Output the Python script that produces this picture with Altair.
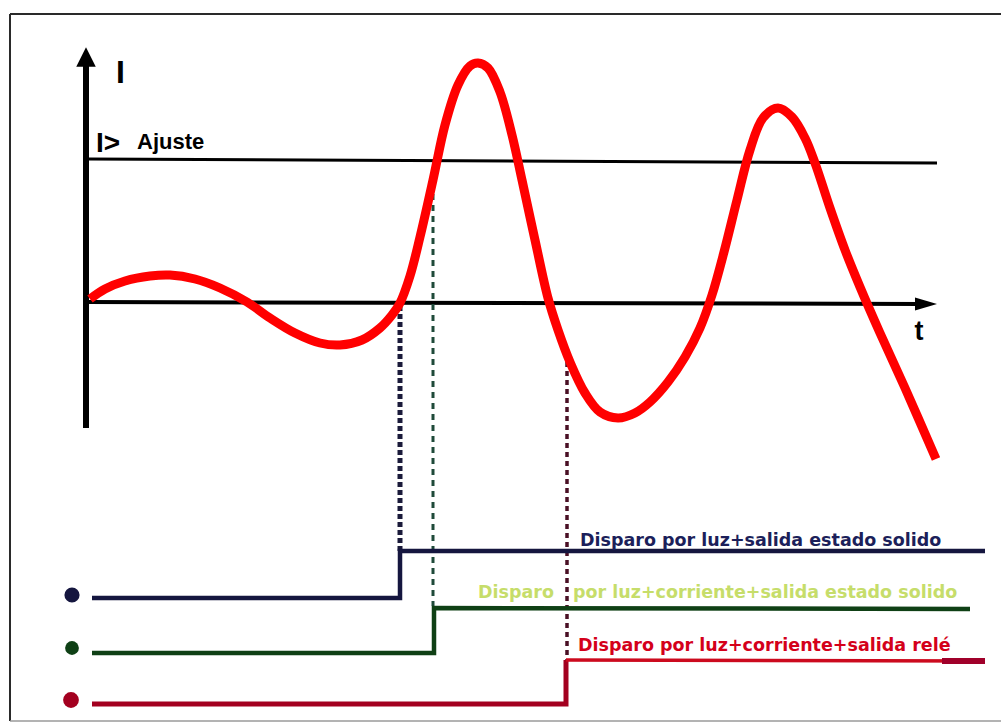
import altair as alt
import pandas as pd

W, H = 1001, 725

# ---- red current curve (t, I) in picture units ----
curve_t = [90, 105, 125, 150, 170, 195, 220, 247, 270, 295, 320, 340, 362, 380, 392,
           400, 410, 420, 433, 445, 458, 470, 478, 488, 500, 512, 522, 535, 548, 558,
           570, 585, 600, 618, 635, 650, 668, 685, 700, 712, 724, 737, 750, 763, 778,
           792, 805, 815, 830, 845, 860, 880, 905, 936]
curve_i = [299, 289, 281, 276, 275, 279, 288, 302, 318, 333, 343, 345, 340, 328, 315,
           303, 276, 237, 180, 125, 85, 66, 63, 68, 92, 135, 180, 240, 298, 330,
           362, 393, 412, 418, 413, 402, 382, 357, 328, 295, 252, 200, 150, 118, 108,
           117, 138, 163, 208, 250, 287, 333, 388, 459]

# ---- step signals ----
navy_t = [92, 400, 400, 985]
navy_v = [598, 598, 551, 551]
green_t = [92, 434, 434, 970]
green_v = [653, 653, 608, 609]
red_lo_t = [92, 566, 566]
red_lo_v = [704, 704, 660]
red_hi_t = [566, 985]
red_hi_v = [660, 661]

# ---- labels ----
label_texts = ["Disparo por luz+salida estado solido",
               "Disparo",
               "por luz+corriente+salida estado solido",
               "Disparo por luz+corriente+salida relé"]

xs = alt.Scale(domain=[0, W], nice=False, zero=False)
ys = alt.Scale(domain=[H, 0], nice=False, zero=False)


def rule(df, color, width, dash=None, opacity=1.0, cap="butt"):
    kw = dict(color=color, strokeWidth=width, opacity=opacity, strokeCap=cap)
    if dash:
        kw["strokeDash"] = dash
    return alt.Chart(pd.DataFrame(df)).mark_rule(**kw).encode(
        x=alt.X("x:Q", scale=xs, axis=None),
        y=alt.Y("y:Q", scale=ys, axis=None),
        x2="x2:Q", y2="y2:Q")


def path(t, v, color, width, interp="linear"):
    df = pd.DataFrame({"x": t, "y": v, "o": list(range(len(t)))})
    return alt.Chart(df).mark_line(color=color, strokeWidth=width, interpolate=interp,
                                   strokeJoin="miter", strokeCap="butt").encode(
        x=alt.X("x:Q", scale=xs, axis=None),
        y=alt.Y("y:Q", scale=ys, axis=None),
        order="o:Q")


def text(xv, yv, s, color, size, weight="bold", font="Liberation Sans", align="left"):
    df = pd.DataFrame({"x": [xv], "y": [yv], "s": [s]})
    return alt.Chart(df).mark_text(color=color, fontSize=size, fontWeight=weight, font=font,
                                   align=align, baseline="alphabetic").encode(
        x=alt.X("x:Q", scale=xs, axis=None),
        y=alt.Y("y:Q", scale=ys, axis=None),
        text="s:N")


def head(xv, yv, shape, size):
    df = pd.DataFrame({"x": [xv], "y": [yv]})
    return alt.Chart(df).mark_point(shape=shape, size=size, filled=True, color="black",
                                    opacity=1, strokeWidth=0).encode(
        x=alt.X("x:Q", scale=xs, axis=None),
        y=alt.Y("y:Q", scale=ys, axis=None))


def dot(xv, yv, color, size):
    df = pd.DataFrame({"x": [xv], "y": [yv]})
    return alt.Chart(df).mark_point(shape="circle", size=size, filled=True, color=color,
                                    opacity=1, strokeWidth=0).encode(
        x=alt.X("x:Q", scale=xs, axis=None),
        y=alt.Y("y:Q", scale=ys, axis=None))


layers = [
    # frame
    rule({"x": [10, 10], "y": [14, 14], "x2": [10, 1001], "y2": [721, 14]}, "#2a2a2a", 2),
    rule({"x": [10], "y": [721], "x2": [1001], "y2": [721]}, "#9a9a9a", 1.5),
    # axes and threshold
    rule({"x": [86], "y": [62], "x2": [86], "y2": [428]}, "black", 6),
    rule({"x": [86], "y": [302], "x2": [922], "y2": [304]}, "black", 4),
    rule({"x": [88], "y": [159], "x2": [937], "y2": [163]}, "black", 3),
    head(86, 57, "M-1,1L0,-1L1,1Z", 380),
    head(926, 304, "M-1,-0.6L1,0L-1,0.6Z", 484),
    # dashed drop lines
    rule({"x": [400], "y": [306], "x2": [400], "y2": [552]}, "#1a1a3a", 5, dash=[5, 3]),
    rule({"x": [433], "y": [172], "x2": [433], "y2": [606]}, "#1f4a3a", 3, dash=[6, 5]),
    rule({"x": [567], "y": [362], "x2": [567], "y2": [660]}, "#4a1025", 3.5, dash=[5, 4]),
    # step signals
    path(navy_t, navy_v, "#15163f", 4.5),
    path(green_t, green_v, "#0f4015", 4.5),
    path(red_lo_t, red_lo_v, "#a3001f", 5),
    path(red_hi_t, red_hi_v, "#cc0a1e", 3.5),
    rule({"x": [942], "y": [661], "x2": [985], "y2": [661]}, "#a0002a", 6),
    dot(72, 595, "#15163f", 230),
    dot(72, 648, "#0f4015", 190),
    dot(71, 700, "#a3001f", 250),
    # red curve
    path(curve_t, curve_i, "#ff0000", 9, interp="catmull-rom"),
    # texts
    text(116, 83, "I", "black", 32),
    text(96, 152, "I>", "black", 28),
    text(137, 149, "Ajuste", "black", 22),
    text(919, 340, "t", "black", 27, align="center"),
    text(580, 546, label_texts[0], "#1c1f5a", 17.5, font="DejaVu Sans"),
    text(478, 598, label_texts[1], "#c6dd6a", 17.5, font="DejaVu Sans"),
    text(573, 598, label_texts[2], "#c6dd6a", 17.5, font="DejaVu Sans"),
    text(578, 651, label_texts[3], "#d4001a", 17.5, font="DejaVu Sans"),
]

chart = alt.layer(*layers).properties(
    width=W, height=H, padding=0, autosize=alt.AutoSizeParams(type="none"),
    background="white"
).configure_view(stroke=None)

chart.save("out.html", embed_options={"renderer": "svg", "actions": False})
